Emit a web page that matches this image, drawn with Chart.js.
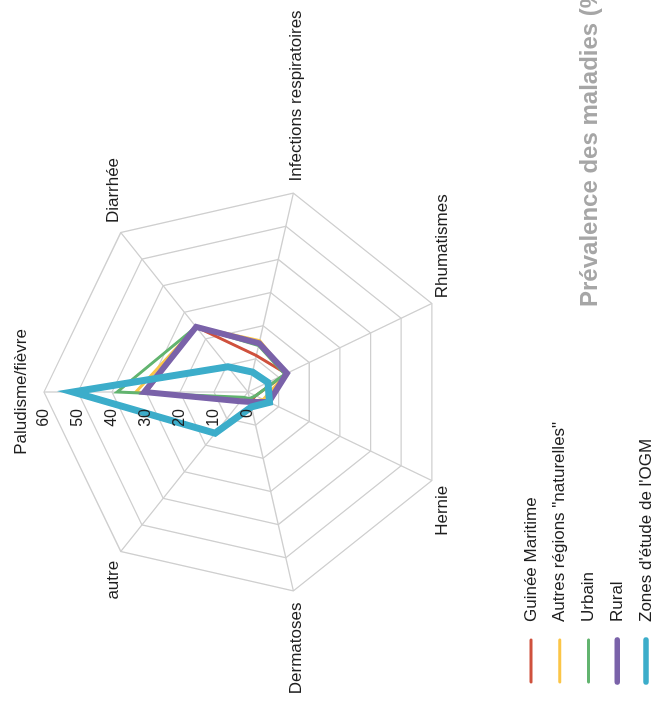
<!DOCTYPE html>
<html>
<head>
<meta charset="utf-8">
<script src="https://cdn.jsdelivr.net/npm/chart.js@4.4.0/dist/chart.umd.min.js"></script>
<style>
  html, body { margin: 0; padding: 0; background: #fff; overflow: hidden; }
  #page { width: 656px; height: 704px; position: relative; overflow: hidden; }
  /* the whole chart is turned a quarter turn to the left */
  #turn { position: absolute; left: 0; top: 0; width: 704px; height: 656px;
          transform-origin: 0 0; transform: translate(0, 704px) rotate(-90deg); }
</style>
</head>
<body>
<div id="page"><div id="turn"><canvas id="radar" width="704" height="656"></canvas></div></div>
<script>
const categories = ["Paludisme/fièvre", "Diarrhée", "Infections respiratoires", "Rhumatismes", "Hernie", "Dermatoses", "autre"];
const seriesNames = ["Guinée Maritime", 'Autres régions "naturelles"', "Urbain", "Rural", "Zones d'étude de l'OGM"];

const guineeMaritime = [30, 24.5, 11, 12.5, 2.5, 3, 3];
const autresRegions = [33, 24.5, 15.5, 12.5, 5, 3, 3];
const urbain = [38.5, 24.5, 14, 12, 2.5, 2, 2];
const rural = [30.5, 24.5, 14.7, 12.7, 6.8, 3, 3.5];
const zonesOgm = [51.5, 9.5, 6, 6.5, 7, 4.5, 15.5];

const tickValues = [0, 10, 20, 30, 40, 50, 60];
const titleText = "Prévalence des maladies (%)";

const FONT = '"Liberation Sans", Arial, sans-serif';

const labelPlugin = {
  id: "labelPlugin",
  afterDraw(chart) {
    const ctx = chart.ctx;
    const r = chart.scales.r;
    ctx.save();

    // tick labels along the first axis
    ctx.font = "16px " + FONT;
    ctx.fillStyle = "#1f1f1f";
    ctx.textAlign = "right";
    ctx.textBaseline = "middle";
    tickValues.forEach((v) => {
      const p = r.getPointPositionForValue(0, v);
      ctx.fillText(String(v), p.x - 17, p.y);
    });

    // category labels
    ctx.font = "17px " + FONT;
    categories.forEach((name, i) => {
      const p = r.getPointPosition(i, r.drawingArea + 12);
      if (Math.abs(p.x - r.xCenter) < 1) {
        const q = r.getPointPosition(i, r.drawingArea + 18);
        ctx.textAlign = "center";
        ctx.textBaseline = "alphabetic";
        ctx.fillText(name, q.x, q.y);
      } else {
        ctx.textAlign = p.x > r.xCenter ? "left" : "right";
        ctx.textBaseline = "middle";
        ctx.fillText(name, p.x, p.y);
      }
    });

    // legend, one entry per row
    ctx.textAlign = "left";
    ctx.textBaseline = "middle";
    ctx.lineCap = "round";
    chart.data.datasets.forEach((ds, i) => {
      const y = 531 + i * 28.75;
      ctx.strokeStyle = ds.borderColor;
      ctx.lineWidth = Math.min(ds.borderWidth, 5.5);
      ctx.beginPath();
      ctx.moveTo(22, y);
      ctx.lineTo(64, y);
      ctx.stroke();
      ctx.fillStyle = "#1f1f1f";
      ctx.fillText(ds.label, 82, y);
    });

    // title
    ctx.font = "bold 24px " + FONT;
    ctx.fillStyle = "#a6a6a6";
    ctx.textBaseline = "alphabetic";
    ctx.fillText(titleText, 397, 597);

    ctx.restore();
  },
};

function makeSet(label, data, color, width, order) {
  return {
    label: label,
    data: data,
    borderColor: color,
    backgroundColor: color,
    borderWidth: width,
    fill: false,
    pointRadius: 0,
    pointHoverRadius: 0,
    order: order,
  };
}

new Chart(document.getElementById("radar"), {
  type: "radar",
  data: {
    labels: categories,
    datasets: [
      makeSet(seriesNames[0], guineeMaritime, "#cf513d", 3, 4),
      makeSet(seriesNames[1], autresRegions, "#fbc547", 3, 3),
      makeSet(seriesNames[2], urbain, "#62b46f", 3, 2),
      makeSet(seriesNames[3], rural, "#7a62a9", 6, 1),
      makeSet(seriesNames[4], zonesOgm, "#3cadca", 7, 0),
    ],
  },
  plugins: [labelPlugin],
  options: {
    responsive: false,
    animation: false,
    layout: { padding: { left: 108, right: 188, top: 44, bottom: 204 } },
    plugins: {
      legend: { display: false },
      title: { display: false },
      tooltip: { enabled: false },
    },
    scales: {
      r: {
        min: tickValues[0],
        max: tickValues[tickValues.length - 1],
        ticks: { stepSize: 10, display: false },
        pointLabels: { display: false },
        grid: { color: "#cfcfcf", lineWidth: 1.3 },
        angleLines: { color: "#cfcfcf", lineWidth: 1.3 },
      },
    },
  },
});
</script>
</body>
</html>
